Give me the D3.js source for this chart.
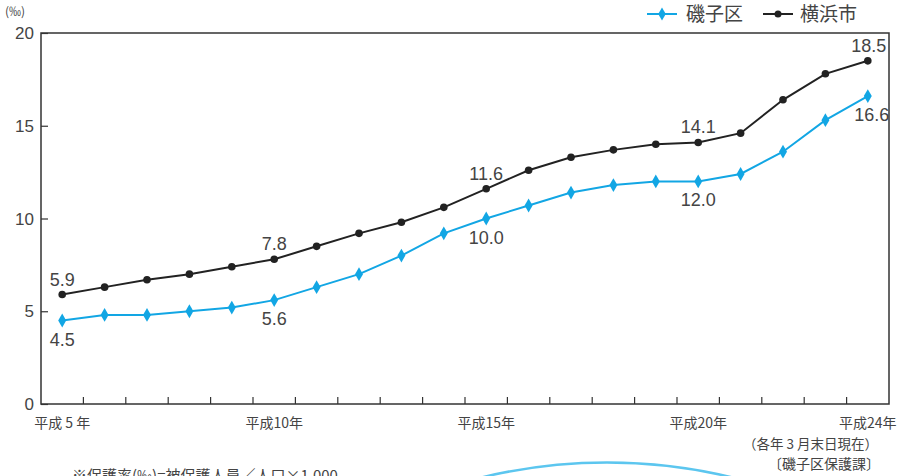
<!DOCTYPE html>
<html><head><meta charset="utf-8">
<script src="https://cdn.jsdelivr.net/npm/d3@7"></script>
<style>
html,body{margin:0;padding:0;background:#fff;}
svg{display:block;font-family:"Noto Sans CJK JP","Noto Sans",sans-serif;}
.num{font-family:"Liberation Sans","DejaVu Sans",sans-serif;}
</style></head>
<body><svg id="c" width="904" height="476"></svg>
<script>
const years = ["H5","H6","H7","H8","H9","H10","H11","H12","H13","H14","H15","H16","H17","H18","H19","H20","H21","H22","H23","H24"];
const xTickLabels = {"H5":"平成 5 年","H10":"平成10年","H15":"平成15年","H20":"平成20年","H24":"平成24年"};
const isogo = [4.5,4.8,4.8,5.0,5.2,5.6,6.3,7.0,8.0,9.2,10.0,10.7,11.4,11.8,12.0,12.0,12.4,13.6,15.3,16.6];
const yokohama = [5.9,6.3,6.7,7.0,7.4,7.8,8.5,9.2,9.8,10.6,11.6,12.6,13.3,13.7,14.0,14.1,14.6,16.4,17.8,18.5];
const labeledYears = ["H5","H10","H15","H20","H24"];
const yTicks = [0,5,10,15,20];
const seriesNames = ["磯子区","横浜市"];

const svg = d3.select("#c");
const m = {l:41, r:15, t:33, b:72};
const W = 904, H = 476;
const x = d3.scaleBand().domain(years).range([m.l, W-m.r]).padding(0);
const y = d3.scaleLinear().domain([0,20]).range([H-m.b, m.t]);
const cx = d => x(d) + x.bandwidth()/2;
const axisCol = "#333", txtCol = "#444";
const cyan = "#12a6e4", black = "#222";

// frame
svg.append("rect").attr("x", m.l).attr("y", m.t).attr("width", W-m.r-m.l).attr("height", H-m.b-m.t)
  .attr("fill","none").attr("stroke", axisCol).attr("stroke-width",1.5);

// y axis (inward ticks)
const yAxis = d3.axisRight(y).tickValues(yTicks).tickSize(7).tickFormat("");
const gy = svg.append("g").attr("transform",`translate(${m.l},0)`).call(yAxis);
gy.select(".domain").remove();
gy.selectAll("line").attr("stroke", axisCol).attr("stroke-width",1.2);
svg.append("g").selectAll("text").data(yTicks).join("text").attr("class","num")
  .attr("x", 34).attr("y", d=>y(d)).attr("dy","0.36em").attr("text-anchor","end")
  .attr("font-size",17).attr("fill",txtCol).text(d=>d);

// x axis: ticks at band boundaries, upward
const bounds = years.slice(1).map(d=>x(d));
svg.append("g").selectAll("line").data(bounds).join("line")
  .attr("x1",d=>d).attr("x2",d=>d).attr("y1",H-m.b).attr("y2",H-m.b-7)
  .attr("stroke",axisCol).attr("stroke-width",1.2);
svg.append("g").selectAll("text").data(years.filter(d=>xTickLabels[d])).join("text")
  .attr("x", d=>cx(d)).attr("y", 428).attr("text-anchor","middle")
  .attr("font-size",14).attr("fill",txtCol).text(d=>xTickLabels[d]);

// unit
svg.append("text").attr("x",5).attr("y",16).attr("font-size",12).attr("fill",txtCol).text("(‰)");

const line = d3.line().x((d,i)=>cx(years[i])).y(d=>y(d));
// Yokohama
svg.append("path").datum(yokohama).attr("d",line).attr("fill","none").attr("stroke",black).attr("stroke-width",2);
svg.append("g").selectAll("circle").data(yokohama).join("circle")
  .attr("cx",(d,i)=>cx(years[i])).attr("cy",d=>y(d)).attr("r",3.8).attr("fill",black);
// Isogo
svg.append("path").datum(isogo).attr("d",line).attr("fill","none").attr("stroke",cyan).attr("stroke-width",2);
const diamond = d3.symbol().type(d3.symbolDiamond).size(55);
svg.append("g").selectAll("path").data(isogo).join("path")
  .attr("d",diamond).attr("transform",(d,i)=>`translate(${cx(years[i])},${y(d)})`).attr("fill",cyan);

// value labels
labeledYears.forEach(yr=>{
  const i = years.indexOf(yr);
  const dx = yr==="H24" ? 1 : 0;
  svg.append("text").attr("class","num").attr("x",cx(yr)+dx).attr("y",y(yokohama[i])-9).attr("text-anchor","middle")
    .attr("font-size",18).attr("fill",txtCol).text(yokohama[i].toFixed(1));
  svg.append("text").attr("class","num").attr("x",cx(yr)+(yr==="H24"?4:0)).attr("y",y(isogo[i])+25).attr("text-anchor","middle")
    .attr("font-size",18).attr("fill",txtCol).text(isogo[i].toFixed(1));
});

// legend
const lg = svg.append("g");
const legendItems = [{name:seriesNames[0],col:cyan,x0:647,tx:686,shape:"d"},{name:seriesNames[1],col:black,x0:763,tx:800,shape:"c"}];
legendItems.forEach(it=>{
  lg.append("line").attr("x1",it.x0).attr("x2",it.x0+30).attr("y1",14).attr("y2",14).attr("stroke",it.col).attr("stroke-width",2);
  if(it.shape==="d") lg.append("path").attr("d",d3.symbol().type(d3.symbolDiamond).size(50)).attr("transform",`translate(${it.x0+15},14)`).attr("fill",it.col);
  else lg.append("circle").attr("cx",it.x0+15).attr("cy",14).attr("r",3.5).attr("fill",it.col);
  lg.append("text").attr("x",it.tx).attr("y",14).attr("dy","0.36em").attr("font-size",19).attr("fill",txtCol).text(it.name);
});

// notes
svg.append("text").attr("x",878).attr("y",449).attr("text-anchor","end").attr("font-size",13.5).attr("fill",txtCol).text("（各年 3 月末日現在）");
svg.append("text").attr("x",880).attr("y",469).attr("text-anchor","end").attr("font-size",14).attr("fill",txtCol).text("〔磯子区保護課〕");
svg.append("text").attr("x",72).attr("y",481).attr("font-size",15).attr("fill",txtCol).text("※保護率(‰)=被保護人員／人口×1,000");

// decorative arc
svg.append("circle").attr("cx",607).attr("cy",462.5+530).attr("r",530).attr("fill","none").attr("stroke","#5cc6ef").attr("stroke-width",2.5);
</script></body></html>
